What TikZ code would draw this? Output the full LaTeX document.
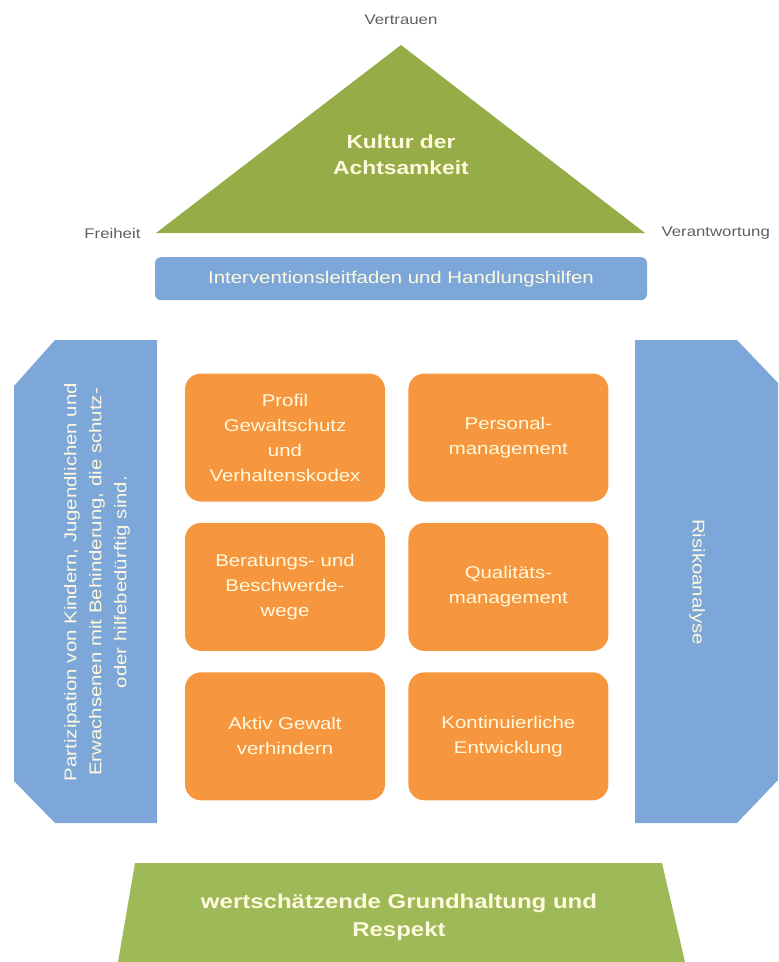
\documentclass[tikz,border=0pt]{standalone}
\usepackage{fontspec}
\setmainfont{Liberation Sans}[FakeStretch=1.2]
\usetikzlibrary{positioning}

\definecolor{roofgreen}{RGB}{150,172,70}
\definecolor{basegreen}{RGB}{158,186,88}
\definecolor{pillarblue}{RGB}{125,167,216}
\definecolor{taskorange}{RGB}{246,150,62}
\definecolor{cream}{RGB}{255,249,222}
\definecolor{labelgrey}{RGB}{95,95,95}

\tikzset{
	corner/.style={text=labelgrey,font=\fontsize{14}{16}\selectfont},
	task/.style={fill=taskorange,rounded corners=16pt,minimum width=200pt,minimum height=128pt,
		text=cream,align=center,font=\fontsize{17}{25}\selectfont},
	pillartext/.style={text=cream,align=center,font=\fontsize{17}{25}\selectfont},
	boldtext/.style={text=cream,align=center,font=\bfseries\fontsize{19}{26}\selectfont},
}

\begin{document}
\begin{tikzpicture}[x=1pt,y=-1pt]
		\useasboundingbox (0,0) rectangle (779,962);
		
		\coordinate (apex) at (401,45);
		\coordinate (eavel) at (156,233);
		\coordinate (eaver) at (645,233);
		\fill[roofgreen] (apex) -- (eavel) -- (eaver) -- cycle;
		\node[boldtext] (kultur) at (401,155) {Kultur der\\Achtsamkeit};
		
		\node[corner,above=17pt of apex] (vertrauen) {Vertrauen};
		\node[corner,left=12pt of eavel] (freiheit) {Freiheit};
		\node[corner,right=13pt of eaver] (verantwortung) {Verantwortung};
		
		\node[fill=pillarblue,rounded corners=6pt,minimum width=492pt,minimum height=43pt,
			pillartext,below=24pt of eaver -| apex] (leitfaden) {Interventionsleitfaden und Handlungshilfen};
		
		\fill[pillarblue] (55,340) -- (157,340) -- (157,823) -- (55,823) -- (14,781) -- (14,386) -- cycle;
		\node[pillartext,rotate=90] (partizipation) at (97,582) {Partizipation von Kindern, Jugendlichen und\\Erwachsenen mit Behinderung, die schutz-\\oder hilfebedürftig sind.};
		
		\fill[pillarblue] (635,340) -- (737,340) -- (778,383) -- (778,780) -- (737,823) -- (635,823) -- cycle;
		\node[pillartext,rotate=-90] (risiko) at (697,582) {Risikoanalyse};
		
		\node[task] (profil) at (285,437.5) {Profil\\Gewaltschutz\\und\\Verhaltenskodex};
		\node[task,right=23pt of profil] (personal) {Personal-\\management};
		\node[task,below=21pt of profil] (beratung) {Beratungs- und\\Beschwerde-\\wege};
		\node[task,right=23pt of beratung] (qualitaet) {Qualitäts-\\management};
		\node[task,below=21pt of beratung] (aktiv) {Aktiv Gewalt\\verhindern};
		\node[task,right=23pt of aktiv] (entwicklung) {Kontinuierliche\\Entwicklung};
		
		\fill[basegreen] (135,863) -- (662,863) -- (685,962) -- (118,962) -- cycle;
		\node[boldtext,font=\bfseries\fontsize{20}{28}\selectfont] (respekt) at (399,917) {wertschätzende Grundhaltung und\\Respekt};
	\end{tikzpicture}
\end{document}
